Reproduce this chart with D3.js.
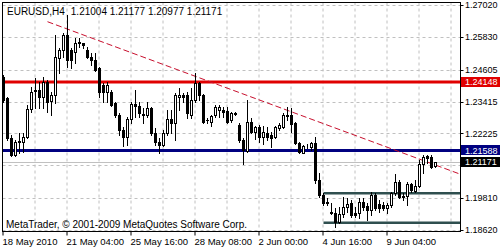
<!DOCTYPE html>
<html>
<head>
<meta charset="utf-8">
<script src="https://cdn.jsdelivr.net/npm/d3@7"></script>
<style>
body { margin: 0; background: #fff; }
svg { display: block; font-family: "Liberation Sans", Arial, sans-serif; }
</style>
</head>
<body>
<svg id="chart" width="500" height="250"></svg>
<script>
// EURUSD H4 bars
const opens = [1.2434,1.2354,1.2204,1.2142,1.2190,1.2192,1.2210,1.2312,1.2381,1.2385,1.2360,1.2416,1.2345,1.2366,1.2503,1.2534,1.2590,1.2534,1.2528,1.2559,
  1.2559,1.2534,1.2509,1.2497,1.2466,1.2403,1.2378,1.2378,1.2337,1.2291,1.2235,1.2210,1.2275,1.2331,1.2325,1.2296,1.2291,1.2316,1.2223,1.2192,
  1.2179,1.2223,1.2275,1.2260,1.2357,1.2366,1.2366,1.2291,1.2347,1.2412,1.2366,1.2274,1.2266,1.2291,1.2310,1.2310,1.2307,1.2273,1.2299,1.2254,
  1.2198,1.2158,1.2266,1.2229,1.2245,1.2208,1.2225,1.2217,1.2210,1.2241,1.2248,1.2292,1.2291,1.2260,1.2185,1.2150,1.2174,1.2173,1.2188,1.2048,
  1.1992,1.1965,1.1930,1.1926,1.1893,1.1920,1.1946,1.1961,1.1924,1.1924,1.1968,1.1952,1.1936,1.1992,1.1958,1.1955,1.1943,1.1955,1.1999,1.2042,
  1.1989,1.1989,1.2033,1.2009,1.2026,1.2108,1.2138,1.2133,1.21004];
const highs = [1.2440,1.2360,1.2217,1.2198,1.2223,1.2223,1.2329,1.2397,1.2428,1.2416,1.2434,1.2422,1.2378,1.2590,1.2540,1.2596,1.2665,1.2540,1.2578,1.2578,
  1.2561,1.2546,1.2522,1.2522,1.2472,1.2409,1.2416,1.2385,1.2341,1.2297,1.2248,1.2285,1.2341,1.2385,1.2341,1.2316,1.2341,1.2322,1.2241,1.2204,
  1.2235,1.2310,1.2310,1.2372,1.2391,1.2372,1.2378,1.2391,1.2447,1.2416,1.2370,1.2279,1.2291,1.2329,1.2329,1.2322,1.2322,1.2304,1.2301,1.2260,
  1.2204,1.2347,1.2279,1.2250,1.2254,1.2250,1.2248,1.2229,1.2250,1.2260,1.2297,1.2322,1.2316,1.2266,1.2192,1.2179,1.2183,1.2192,1.2210,1.2076,
  1.1999,1.1980,1.1961,1.1943,1.1949,1.1986,1.1980,1.1974,1.1949,1.1980,1.1980,1.1964,1.2005,1.1999,1.1974,1.1967,1.1964,1.2005,1.2071,1.2048,
  1.1999,1.2040,1.2038,1.2048,1.2123,1.2142,1.2142,1.2142,1.21177];
const lows = [1.2341,1.2198,1.2138,1.2138,1.2148,1.2154,1.2204,1.2304,1.2316,1.2316,1.2316,1.2304,1.2291,1.2335,1.2447,1.2509,1.2472,1.2466,1.2484,1.2546,
  1.2540,1.2503,1.2478,1.2457,1.2360,1.2341,1.2341,1.2325,1.2285,1.2217,1.2175,1.2179,1.2260,1.2285,1.2285,1.2260,1.2285,1.2217,1.2179,1.2150,
  1.2175,1.2217,1.2223,1.2198,1.2310,1.2341,1.2279,1.2279,1.2341,1.2347,1.2263,1.2263,1.2250,1.2285,1.2285,1.2285,1.2263,1.2266,1.2292,1.2192,
  1.2108,1.2154,1.2225,1.2200,1.2192,1.2183,1.2198,1.2173,1.2204,1.2235,1.2241,1.2273,1.2229,1.2183,1.2150,1.2148,1.2167,1.2160,1.2036,1.1986,
  1.1955,1.1955,1.1921,1.1874,1.1887,1.1911,1.1930,1.1911,1.1911,1.1905,1.1936,1.1901,1.1917,1.1936,1.1930,1.1936,1.1924,1.1949,1.1992,1.1980,
  1.1974,1.1955,1.2005,1.2005,1.2024,1.2073,1.2111,1.2092,1.20977];
const closes = [1.2347,1.2204,1.2142,1.2192,1.2194,1.2210,1.2312,1.2378,1.2383,1.2357,1.2416,1.2341,1.2366,1.2509,1.2534,1.2590,1.2497,1.2497,1.2559,1.2565,
  1.2553,1.2509,1.2497,1.2459,1.2378,1.2378,1.2403,1.2328,1.2291,1.2235,1.2210,1.2275,1.2331,1.2325,1.2297,1.2292,1.2316,1.2223,1.2192,1.2179,
  1.2223,1.2275,1.2260,1.2366,1.2366,1.2357,1.2297,1.2347,1.2412,1.2366,1.2266,1.2271,1.2287,1.2320,1.2320,1.2302,1.2266,1.2297,1.2295,1.2198,
  1.2160,1.2266,1.2229,1.2248,1.2210,1.2229,1.2210,1.2204,1.2245,1.2254,1.2291,1.2289,1.2258,1.2188,1.2154,1.2175,1.2177,1.2188,1.2048,1.1992,
  1.1964,1.1963,1.1924,1.1893,1.1920,1.1946,1.1958,1.1917,1.1917,1.1968,1.1949,1.1936,1.1992,1.1943,1.1943,1.1943,1.1955,1.1999,1.2042,1.1986,
  1.1984,1.2033,1.2011,1.2026,1.2108,1.2136,1.2129,1.2098,1.21171];

const priceTicks = [1.27020, 1.25830, 1.24605, 1.23415, 1.22225, 1.21035, 1.19810, 1.18620];
const dateBars = [0, 16, 32, 48, 64, 80, 96];
const dateLabels = ["18 May 2010", "21 May 04:00", "25 May 16:00", "28 May 08:00", "2 Jun 00:00", "4 Jun 16:00", "9 Jun 04:00"];

const resistance = 1.24148;
const support = 1.21588;
const rangeTop = 1.19995;
const rangeBottom = 1.18890;
const rangeStartBar = 80;
const trendBars = [11, 108];
const trendPrices = [1.26396, 1.21045];
const bidPrice = 1.21171;

const svg = d3.select("#chart");
const plotLeft = 2.5, plotRight = 460.5, plotTop = 2.5, plotBottom = 231.5;

let x = d3.scaleLinear().domain([0, 114]).range([3.5, 459.5]);
let y = d3.scaleLinear().domain([1.18620, 1.27020]).range([230, 5]);
const py = v => Math.round(y(v)) + 0.5;

svg.append("defs").append("clipPath").attr("id", "plot")
  .append("rect").attr("x", plotLeft).attr("y", plotTop).attr("width", plotRight - plotLeft).attr("height", plotBottom - plotTop);

// grid
let grid = svg.append("g").attr("stroke", "#c0c0c0").attr("stroke-dasharray", "3,3");
d3.range(8, 115, 8).forEach(b => {
  grid.append("line").attr("x1", x(b) - 0.5).attr("x2", x(b) - 0.5).attr("y1", plotTop).attr("y2", plotBottom);
});
priceTicks.forEach(p => {
  grid.append("line").attr("x1", plotLeft).attr("x2", plotRight).attr("y1", py(p)).attr("y2", py(p));
});

let plot = svg.append("g").attr("clip-path", "url(#plot)");

// bid line
plot.append("line").attr("x1", plotLeft).attr("x2", plotRight).attr("y1", py(bidPrice)).attr("y2", py(bidPrice))
  .attr("stroke", "#c0c0c0");

// horizontal levels
plot.append("line").attr("x1", plotLeft).attr("x2", plotRight).attr("y1", y(resistance)).attr("y2", y(resistance))
  .attr("stroke", "#e00000").attr("stroke-width", 3);
plot.append("line").attr("x1", plotLeft).attr("x2", plotRight).attr("y1", y(support)).attr("y2", y(support))
  .attr("stroke", "#000080").attr("stroke-width", 3);
[rangeTop, rangeBottom].forEach(p => {
  plot.append("line").attr("x1", x(rangeStartBar)).attr("x2", plotRight).attr("y1", y(p)).attr("y2", y(p))
    .attr("stroke", "#2f4f4f").attr("stroke-width", 2.5);
});

// trend line ray
let slope = (trendPrices[1] - trendPrices[0]) / (trendBars[1] - trendBars[0]);
let endBar = x.invert(plotRight);
plot.append("line")
  .attr("x1", x(trendBars[0])).attr("y1", y(trendPrices[0]))
  .attr("x2", x(endBar)).attr("y2", y(trendPrices[0] + slope * (endBar - trendBars[0])))
  .attr("stroke", "#c8102e").attr("stroke-dasharray", "6,3");

// candles
let candles = plot.append("g");
closes.forEach((c, i) => {
  let o = opens[i], cx = x(i);
  candles.append("line").attr("x1", cx).attr("x2", cx)
    .attr("y1", py(highs[i]) - 0.5).attr("y2", py(lows[i]) + 0.5).attr("stroke", "#000");
  let yt = Math.round(y(Math.max(o, c))), yb = Math.round(y(Math.min(o, c)));
  if (c >= o) {
    candles.append("rect").attr("x", cx - 1).attr("y", yt + 0.5).attr("width", 2).attr("height", Math.max(yb - yt, 0))
      .attr("fill", "#fff").attr("stroke", "#000");
  } else {
    candles.append("rect").attr("x", cx - 1.5).attr("y", yt).attr("width", 3).attr("height", Math.max(yb - yt + 1, 1))
      .attr("fill", "#000");
  }
});

// frame
svg.append("rect").attr("x", plotLeft).attr("y", plotTop).attr("width", plotRight - plotLeft).attr("height", plotBottom - plotTop)
  .attr("fill", "none").attr("stroke", "#000");

// price axis (the 1.21035 label sits under the bid box, so only its tick is drawn)
let axisR = svg.append("g").attr("font-size", 9);
priceTicks.forEach(p => {
  axisR.append("line").attr("x1", plotRight).attr("x2", plotRight + 3).attr("y1", py(p)).attr("y2", py(p)).attr("stroke", "#000");
  if (Math.abs(y(p) - y(bidPrice)) > 8) {
    axisR.append("text").attr("x", 465).attr("y", y(p) + 3.3).text(p.toFixed(5));
  }
});
[[resistance, "#e00000"], [support, "#000080"], [bidPrice, "#000"]].forEach(([p, col]) => {
  axisR.append("rect").attr("x", plotRight + 0.5).attr("y", Math.round(y(p)) - 5).attr("width", 40).attr("height", 10).attr("fill", col);
  axisR.append("text").attr("x", 465).attr("y", y(p) + 3.3).attr("fill", "#fff").text(p.toFixed(5));
});

// time axis
let axisB = svg.append("g").attr("font-size", 9.5);
dateBars.forEach((b, i) => {
  axisB.append("line").attr("x1", x(b) - 0.5).attr("x2", x(b) - 0.5).attr("y1", plotBottom).attr("y2", plotBottom + 4).attr("stroke", "#000");
  axisB.append("text").attr("x", x(b) - 1).attr("y", 245).text(dateLabels[i]);
});

// header and footer
let header = svg.append("text").attr("x", 7).attr("y", 15).attr("font-size", 10);
header.append("tspan").text("EURUSD,H4");
header.append("tspan").attr("dx", 6)
  .text([opens[108], highs[108], lows[108], closes[108]].map(v => v.toFixed(5)).join(" "));
svg.append("text").attr("x", 6).attr("y", 228).attr("font-size", 10)
  .text("MetaTrader, \u00a9 2001-2009 MetaQuotes Software Corp.");
</script>
</body>
</html>
